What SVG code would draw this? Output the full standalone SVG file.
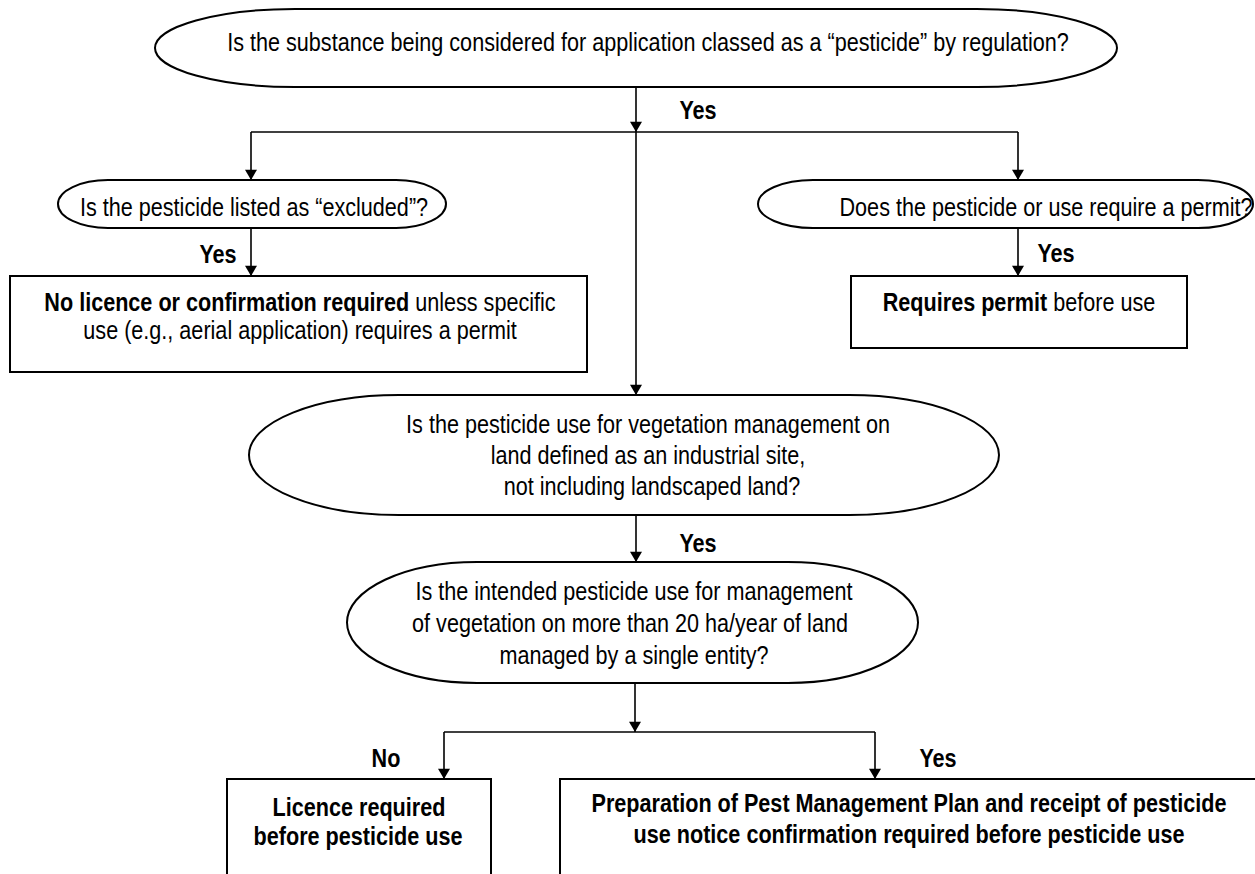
<svg xmlns="http://www.w3.org/2000/svg" width="1255" height="874" viewBox="0 0 1255 874">
<defs>
<marker id="arr" viewBox="0 0 12 14" refX="12" refY="7" markerWidth="14" markerHeight="12" markerUnits="userSpaceOnUse" orient="auto">
<path d="M0,0 L12,7 L0,14 z" fill="#000"/>
</marker>
<style>
.shape{fill:#fff;stroke:#000;stroke-width:2}
.t{font-family:"Liberation Sans",Arial,sans-serif;font-size:25px;fill:#000;text-anchor:middle}
.b{font-weight:bold}
.c{fill:none;stroke:#000;stroke-width:1.6}
</style>
</defs>
<rect width="1255" height="874" fill="#fff"/>
<g id="connectors">
<path class="c" d="M636,88 V132" marker-end="url(#arr)"/>
<path class="c" d="M636,132 V395" marker-end="url(#arr)"/>
<path class="c" d="M251,132 H1018"/>
<path class="c" d="M251,132 V180" marker-end="url(#arr)"/>
<path class="c" d="M1018,132 V180" marker-end="url(#arr)"/>
<path class="c" d="M251,228 V276" marker-end="url(#arr)"/>
<path class="c" d="M1018,228 V276" marker-end="url(#arr)"/>
<path class="c" d="M636,515 V562" marker-end="url(#arr)"/>
<path class="c" d="M635,683 V732" marker-end="url(#arr)"/>
<path class="c" d="M444,732 H875"/>
<path class="c" d="M444,732 V779" marker-end="url(#arr)"/>
<path class="c" d="M875,732 V779" marker-end="url(#arr)"/>
<g transform="translate(698,119) scale(0.864,1)"><text class="t b" x="0" y="0">Yes</text></g>
<g transform="translate(218,263) scale(0.864,1)"><text class="t b" x="0" y="0">Yes</text></g>
<g transform="translate(1056,262) scale(0.864,1)"><text class="t b" x="0" y="0">Yes</text></g>
<g transform="translate(698,552) scale(0.864,1)"><text class="t b" x="0" y="0">Yes</text></g>
<g transform="translate(386,767) scale(0.864,1)"><text class="t b" x="0" y="0">No</text></g>
<g transform="translate(938,767) scale(0.864,1)"><text class="t b" x="0" y="0">Yes</text></g>
</g>
<g id="q1">
<rect class="shape" x="155" y="9" width="962" height="78" rx="140" ry="39"/>
<g transform="translate(648,51) scale(0.864,1)"><text class="t" x="0" y="0">Is the substance being considered for application classed as a “pesticide” by regulation?</text></g>
</g>
<g id="q2">
<rect class="shape" x="58" y="180" width="388" height="48" rx="50" ry="24"/>
<g transform="translate(254,216) scale(0.864,1)"><text class="t" x="0" y="0">Is the pesticide listed as “excluded”?</text></g>
</g>
<g id="q3">
<rect class="shape" x="758" y="180" width="495" height="48" rx="55" ry="24"/>
<g transform="translate(1046,216) scale(0.864,1)"><text class="t" x="0" y="0">Does the pesticide or use require a permit?</text></g>
</g>
<g id="r1">
<rect class="shape" x="10" y="276" width="577" height="96"/>
<g transform="translate(300,311) scale(0.864,1)"><text class="t" x="0" y="0"><tspan class="b">No licence or confirmation required</tspan> unless specific</text></g>
<g transform="translate(300,339) scale(0.864,1)"><text class="t" x="0" y="0">use (e.g., aerial application) requires a permit</text></g>
</g>
<g id="r2">
<rect class="shape" x="851" y="276" width="336" height="72"/>
<g transform="translate(1019,311) scale(0.864,1)"><text class="t" x="0" y="0"><tspan class="b">Requires permit</tspan> before use</text></g>
</g>
<g id="q4">
<rect class="shape" x="249" y="395" width="750" height="120" rx="150" ry="60"/>
<g transform="translate(648,433) scale(0.864,1)"><text class="t" x="0" y="0">Is the pesticide use for vegetation management on</text></g>
<g transform="translate(648,464) scale(0.864,1)"><text class="t" x="0" y="0">land defined as an industrial site,</text></g>
<g transform="translate(652,495) scale(0.864,1)"><text class="t" x="0" y="0">not including landscaped land?</text></g>
</g>
<g id="q5">
<rect class="shape" x="347" y="562" width="571" height="121" rx="130" ry="60.5"/>
<g transform="translate(634,600) scale(0.864,1)"><text class="t" x="0" y="0">Is the intended pesticide use for management</text></g>
<g transform="translate(630,632) scale(0.864,1)"><text class="t" x="0" y="0">of vegetation on more than 20 ha/year of land</text></g>
<g transform="translate(634,664) scale(0.864,1)"><text class="t" x="0" y="0">managed by a single entity?</text></g>
</g>
<g id="r3">
<rect class="shape" x="227" y="779" width="264" height="140"/>
<g transform="translate(359,816) scale(0.864,1)"><text class="t b" x="0" y="0">Licence required</text></g>
<g transform="translate(358,845) scale(0.864,1)"><text class="t b" x="0" y="0">before pesticide use</text></g>
</g>
<g id="r4">
<rect class="shape" x="560" y="779" width="720" height="140"/>
<g transform="translate(909,812) scale(0.864,1)"><text class="t b" x="0" y="0">Preparation of Pest Management Plan and receipt of pesticide</text></g>
<g transform="translate(909,843) scale(0.864,1)"><text class="t b" x="0" y="0">use notice confirmation required before pesticide use</text></g>
</g>
</svg>
